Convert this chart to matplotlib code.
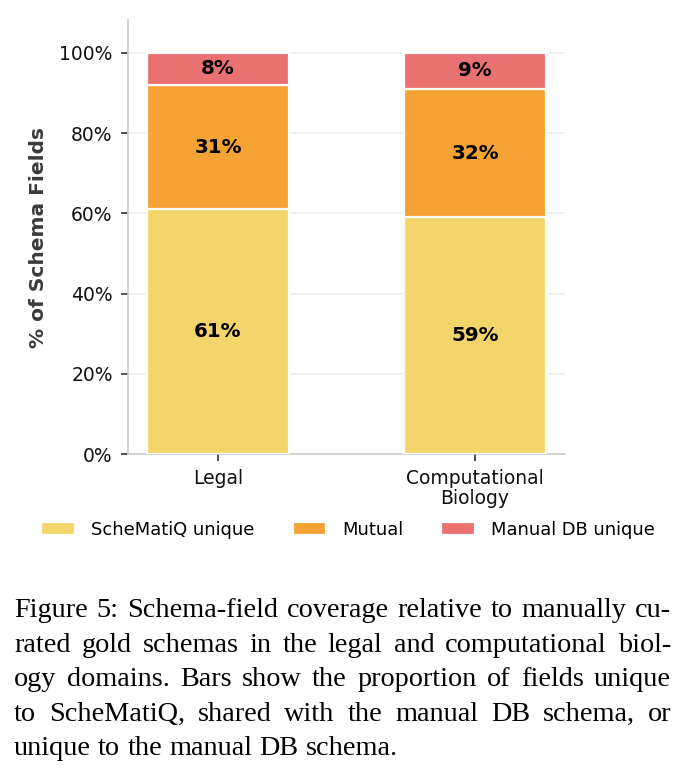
import matplotlib
matplotlib.use("Agg")
import matplotlib.pyplot as plt
from matplotlib.ticker import PercentFormatter, MultipleLocator
import numpy as np

# ---- data ----
categories = ["Legal", "Computational\nBiology"]
series_names = ["ScheMatiQ unique", "Mutual", "Manual DB unique"]
schematiq_unique = [61, 59]
mutual = [31, 32]
manual_unique = [8, 9]
colors = ["#F4D56B", "#F4A233", "#E97171"]

caption_lines = [
    "Figure 5: Schema-field coverage relative to manually cu-",
    "rated gold schemas in the legal and computational biol-",
    "ogy domains. Bars show the proportion of fields unique",
    "to ScheMatiQ, shared with the manual DB schema, or",
    "unique to the manual DB schema.",
]

plt.rcParams["font.family"] = ["DejaVu Sans"]

W, H = 691, 783
fig = plt.figure(figsize=(W / 100, H / 100), dpi=100)
ax = fig.add_axes([128 / W, 1 - 454 / H, (565 - 128) / W, (454 - 20) / H])

x = np.arange(len(categories))
width = 0.55
series = [schematiq_unique, mutual, manual_unique]
bottom = np.zeros(len(categories))
for name, vals, col in zip(series_names, series, colors):
    vals = np.array(vals, dtype=float)
    ax.bar(x, vals, width, bottom=bottom, color=col, edgecolor="white",
           linewidth=1.6, label=name, zorder=3)
    for xi, b, v in zip(x, bottom, vals):
        ax.text(xi, b + v / 2, f"{v:.0f}%", ha="center", va="center",
                fontsize=14.3, fontweight="bold", color="black", zorder=4)
    bottom += vals

ax.set_xlim(-0.35, 1.35)
ax.set_ylim(0, 108.2)
ax.yaxis.set_major_locator(MultipleLocator(20))
ax.yaxis.set_major_formatter(PercentFormatter(decimals=0))
ax.set_xticks(x)
ax.set_xticklabels(categories, fontsize=13.5, color="#111111", linespacing=1.05)
ax.tick_params(axis="y", labelsize=13.5, labelcolor="#111111", length=5, width=1.2,
               color="#333333", pad=6)
ax.tick_params(axis="x", length=5, width=1.2, color="#333333", pad=6)
ax.set_ylabel("% of Schema Fields", fontsize=14.5, fontweight="bold", color="#3a3a3a",
              labelpad=8)
ax.grid(axis="y", color="#eeeeee", linewidth=1.2, zorder=0)
ax.set_axisbelow(True)
for s in ["top", "right"]:
    ax.spines[s].set_visible(False)
for s in ["left", "bottom"]:
    ax.spines[s].set_color("#cccccc")
    ax.spines[s].set_linewidth(1.2)

fig.legend(loc="center", bbox_to_anchor=(348 / W, 1 - 530 / H), ncol=3,
           frameon=False, fontsize=12.9, handlelength=1.85, handleheight=0.75,
           columnspacing=2.15, handletextpad=0.9)

# ---- justified caption ----
fig.canvas.draw()
renderer = fig.canvas.get_renderer()
cap_kw = dict(fontsize=20.3, family=["Liberation Serif", "DejaVu Serif"], color="black")
left_px, right_px = 14, 671
baselines = [617, 652, 686, 721, 755]
t1 = fig.text(0, 0, "a a", **cap_kw)
t2 = fig.text(0, 0, "aa", **cap_kw)
space_w = t1.get_window_extent(renderer).width - t2.get_window_extent(renderer).width
t1.remove(); t2.remove()
for i, line in enumerate(caption_lines):
    words = line.split(" ")
    texts = [fig.text(0, 1 - baselines[i] / H, w, va="baseline", ha="left", **cap_kw)
             for w in words]
    widths = [t.get_window_extent(renderer).width for t in texts]
    if i < len(caption_lines) - 1 and len(words) > 1:
        gap = (right_px - left_px - sum(widths)) / (len(words) - 1)
        gap = max(gap, 0.6 * space_w)
    else:
        gap = space_w
    xpos = left_px
    for t, w in zip(texts, widths):
        t.set_x(xpos / W)
        xpos += w + gap

fig.savefig("out.png", dpi=100)
